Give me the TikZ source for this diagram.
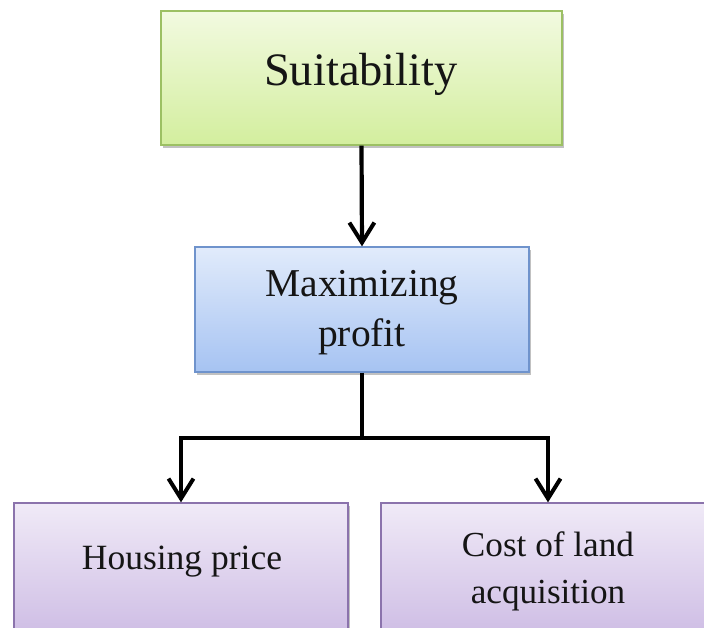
\documentclass[tikz,border=0pt]{standalone}
\usepackage{fontspec}
\setmainfont{Liberation Serif}
\usetikzlibrary{arrows.meta,shadows,calc}

\definecolor{greenTop}{HTML}{F2FAE0}
\definecolor{greenBot}{HTML}{D3EE9E}
\definecolor{greenLine}{HTML}{9CC063}
\definecolor{blueTop}{HTML}{E1EBFB}
\definecolor{blueBot}{HTML}{A6C3F2}
\definecolor{blueLine}{HTML}{6F93CC}
\definecolor{purpTop}{HTML}{F0EAF7}
\definecolor{purpBot}{HTML}{CBB9E3}
\definecolor{purpLine}{HTML}{8B73AC}
\definecolor{inkText}{HTML}{151515}

\begin{document}
\begin{tikzpicture}[x=1pt,y=1pt,
  box/.style={draw, line width=1.3pt, rectangle, inner sep=0pt,
    drop shadow={shadow xshift=1.5pt, shadow yshift=-3.5pt, opacity=0.4, fill=black!60}},
  greenbox/.style={box, draw=greenLine, top color=greenTop, bottom color=greenBot},
  bluebox/.style={box, draw=blueLine, top color=blueTop, bottom color=blueBot},
  purpbox/.style={box, draw=purpLine, top color=purpTop, bottom color=purpBot},
  lbl/.style={text=inkText, align=center, inner sep=0pt},
  link/.style={line width=4.2pt, draw=black},
  arrow/.style={link, -{Straight Barb[length=20pt, width=25pt, line width=4pt]}}
]
\clip (0,0) rectangle (704,628);
\fill[white] (0,0) rectangle (704,628);

% boxes
\node[greenbox, minimum width=401pt, minimum height=134pt] (suit) at (361.5,550) {};
\node[bluebox, minimum width=334pt, minimum height=125pt] (maxp) at (362,318.5) {};
\node[purpbox, minimum width=334pt, minimum height=145pt] (house) at (181,52.5) {};
\node[purpbox, minimum width=334pt, minimum height=145pt] (cost) at (548,52.5) {};

% labels
\node[lbl, anchor=base, font=\fontsize{46.5}{54}\selectfont] (suitT) at (361,542) {Suitability};
\node[lbl, font=\fontsize{39.5}{50}\selectfont] (maxpT) at (362,315) {Maximizing\\profit};
\node[lbl, anchor=base, font=\fontsize{35.5}{47}\selectfont] (houseT) at (182,58) {Housing price};
\node[lbl, font=\fontsize{35.2}{47}\selectfont] (costT) at (548,57) {Cost of land\\acquisition};

% connectors
\coordinate (junc) at (362,190);
\draw[arrow] (suit.south) -- (maxp.north);
\draw[link] (maxp.south) -- (junc);
\draw[arrow] (junc) -| (house.north);
\draw[arrow] (junc) -| (cost.north);
\end{tikzpicture}
\end{document}
